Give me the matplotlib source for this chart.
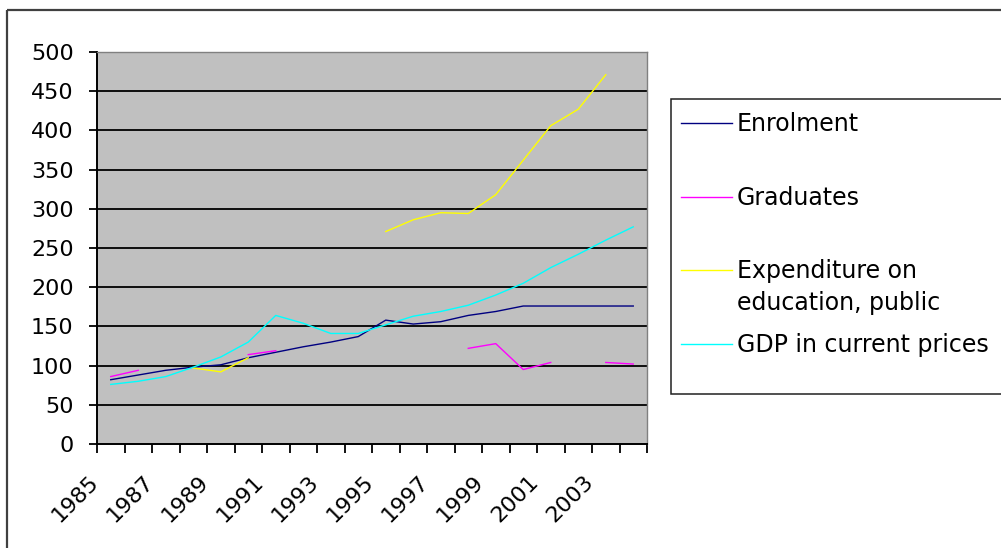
import numpy as np
import matplotlib
matplotlib.use("Agg")
from matplotlib import pyplot as plt
from matplotlib.lines import Line2D
from matplotlib.patches import Rectangle
from matplotlib.transforms import ScaledTranslation

nan = np.nan

years = list(range(1985, 2005))
enrolment = [82, 88, 94, 98, 101, 110, 117, 124, 130, 137,
             158, 153, 156, 164, 169, 176, 176, 176, 176, 176]
graduates = [86, 94, nan, nan, nan, 114, 119, nan, nan, nan,
             nan, nan, nan, 122, 128, 95, 104, nan, 104, 102]
expenditure = [nan, nan, nan, 97, 92, 110, nan, nan, nan, nan,
               271, 286, 295, 294, 318, 362, 406, 427, 471, nan]
gdp = [76, 80, 86, 98, 111, 130, 164, 154, 141, 141,
       152, 163, 169, 177, 190, 205, 225, 242, 260, 277]

series_names = ["Enrolment", "Graduates", "Expenditure on\neducation, public",
                "GDP in current prices"]
series_colors = ["#000080", "#FF00FF", "#FFFF00", "#00FFFF"]
y_ticks = list(range(0, 501, 50))

plt.rcParams["font.family"] = ["DejaVu Sans"]
plt.rcParams["font.size"] = 16

W, H = 1001, 548
fig = plt.figure(figsize=(W / 100, H / 100), dpi=100)
fig.patch.set_facecolor("white")

# plot area in pixel terms
left, top, right, bottom = 97, 52, 647, 444
ax = fig.add_axes([left / W, 1 - bottom / H, (right - left) / W, (bottom - top) / H])
ax.set_facecolor("#C0C0C0")

x = np.arange(len(years))
for vals, color in zip([enrolment, graduates, expenditure, gdp], series_colors):
    ax.plot(x, vals, color=color, lw=1.0, solid_joinstyle="round")

ax.set_xlim(-0.5, len(years) - 0.5)
ax.set_ylim(0, 500)
ax.set_yticks(y_ticks)
ax.set_axisbelow(True)
ax.yaxis.grid(True, color="#000000", lw=1.3)
for gl in ax.yaxis.get_gridlines()[:1] + ax.yaxis.get_gridlines()[-1:]:
    gl.set_visible(False)

# category labels on every other year, tick marks on category boundaries
ax.set_xticks(x[::2])
ax.set_xticks(np.arange(-0.5, len(years)), minor=True)
ax.tick_params(axis="x", which="major", length=0, pad=25)
ax.tick_params(axis="x", which="minor", length=6.5, width=1.3, color="black")
ax.tick_params(axis="y", length=5.8, width=1.3, pad=11, color="black")
ax.set_xticklabels([str(y) for y in years[::2]], rotation=45, ha="right",
                   va="center", rotation_mode="anchor")
shift = ScaledTranslation(-15 / 100, 0, fig.dpi_scale_trans)
for lbl in ax.get_xticklabels():
    lbl.set_transform(lbl.get_transform() + shift)

for side in ("left", "bottom"):
    ax.spines[side].set_color("black")
    ax.spines[side].set_linewidth(1.4)
for side in ("top", "right"):
    ax.spines[side].set_color("#808080")
    ax.spines[side].set_linewidth(1.0)

# overlay for chart frame and legend, pixel coordinates
ov = fig.add_axes([0, 0, 1, 1], zorder=5)
ov.set_xlim(0, W)
ov.set_ylim(H, 0)
ov.axis("off")
ov.patch.set_alpha(0)

ov.add_patch(Rectangle((7, 10), W + 20, H + 20, fill=False,
                       edgecolor="#404040", lw=1.6))
ov.add_patch(Rectangle((671, 99), W, 295, facecolor="white",
                       edgecolor="#202020", lw=1.1))

handle_y = [123, 197, 270, 344]
for name, color, hy in zip(series_names, series_colors, handle_y):
    ov.add_line(Line2D([681, 732], [hy, hy], color=color, lw=1.0))
    for k, line in enumerate(name.split("\n")):
        ov.text(737, hy + 8 + 32 * k, line, ha="left", va="baseline",
                fontsize=17, color="black")

fig.savefig("out.png", dpi=100, facecolor="white")
